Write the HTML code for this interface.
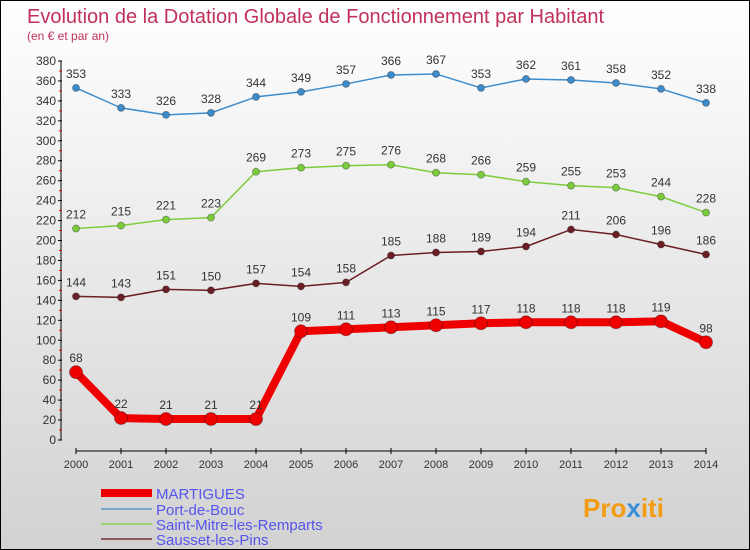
<!DOCTYPE html>
<html><head><meta charset="utf-8"><style>
body{margin:0;}
#c{width:748px;height:548px;border:1px solid #000;background:linear-gradient(#ffffff,#d2d2d2);position:relative;font-family:"Liberation Sans",sans-serif;}
</style></head><body>
<div id="c">
<svg id="s" width="748" height="548" style="position:absolute;left:0;top:0" font-family="Liberation Sans, sans-serif">
<text x="26" y="22" font-size="20" fill="#c0305a">Evolution de la Dotation Globale de Fonctionnement par Habitant</text>
<text x="26" y="39" font-size="12" fill="#c0305a">(en € et par an)</text>
<g id="axes"></g><g id="series"></g><g id="legend"></g>
<text x="582" y="516" font-size="26" font-weight="bold" fill="#f39c12">Pro<tspan fill="#3a8fd8">x</tspan>iti</text>
</svg>
</div>
<script>
const years=[2000,2001,2002,2003,2004,2005,2006,2007,2008,2009,2010,2011,2012,2013,2014];
const martigues=[68,22,21,21,21,109,111,113,115,117,118,118,118,119,98];
const portDeBouc=[353,333,326,328,344,349,357,366,367,353,362,361,358,352,338];
const saintMitre=[212,215,221,223,269,273,275,276,268,266,259,255,253,244,228];
const sausset=[144,143,151,150,157,154,158,185,188,189,194,211,206,196,186];
const yTicks=[0,20,40,60,80,100,120,140,160,180,200,220,240,260,280,300,320,340,360,380];
const NS="http://www.w3.org/2000/svg";
const X=i=>75+i*45, Y=v=>439-v*(379/380);
function mk(t,a,p){const e=document.createElementNS(NS,t);for(const k in a)e.setAttribute(k,a[k]);p.appendChild(e);return e;}
const ax=document.getElementById('axes');
let yl=mk('line',{x1:60,y1:Y(380),x2:60,y2:Y(0),stroke:'#000'},ax);


yTicks.forEach(v=>{
  mk('line',{x1:57,x2:61,y1:Y(v),y2:Y(v),stroke:'#000'},ax);
  if(v<380) mk('line',{x1:58,x2:61,y1:Y(v+10),y2:Y(v+10),stroke:'#e00'},ax);
  const t=mk('text',{x:55,y:Y(v)+4,'font-size':12,fill:'#333','text-anchor':'end'},ax);t.textContent=v;
  
  
});
let xl=mk('line',{x1:75,y1:450,x2:705,y2:450,stroke:'#000'},ax);


years.forEach((y,i)=>{
  mk('line',{x1:X(i),x2:X(i),y1:447,y2:453,stroke:'#000'},ax);
  const t=mk('text',{x:X(i),y:467,'font-size':11,fill:'#333','text-anchor':'middle'},ax);t.textContent=y;
  
  
});
const sg=document.getElementById('series');
function draw(data,color,w,r,name){
  const g=mk('g',{},sg);
  
  
  mk('polyline',{points:data.map((v,i)=>X(i)+','+Y(v)).join(' '),fill:'none',stroke:color,'stroke-width':w,'stroke-linejoin':'round'},g);
  data.forEach((v,i)=>{
    const c=mk('circle',{cx:X(i),cy:Y(v),r:r,fill:color,stroke:'rgba(0,0,0,0.3)','stroke-width':1},g);
    
    
    const t=mk('text',{x:X(i),y:Y(v)-10,'font-size':12,fill:'#333','text-anchor':'middle'},g);t.textContent=v;
    
    
  });
}
draw(portDeBouc,'#3d8ccc',1.5,3.5,'port-de-bouc');
draw(saintMitre,'#7ccd3c',1.5,3.5,'saint-mitre');
draw(sausset,'#6b1e24',1.5,3.5,'sausset');
draw(martigues,'#ee0000',8,6.5,'martigues');
const lg=document.getElementById('legend');
[['MARTIGUES','#ee0000',8,492],['Port-de-Bouc','#7aa8c8',2,508],['Saint-Mitre-les-Remparts','#9cd070',2,523],['Sausset-les-Pins','#8a5a5a',2,538]].forEach(([n,c,w,y])=>{
  const g=mk('g',{},lg);
  
  
  mk('line',{x1:100,x2:151,y1:y,y2:y,stroke:c,'stroke-width':w},g);
  const t=mk('text',{x:155,y:y+6,'font-size':15,fill:'#5555ee'},g);t.textContent=n;
});
</script>
</body></html>
